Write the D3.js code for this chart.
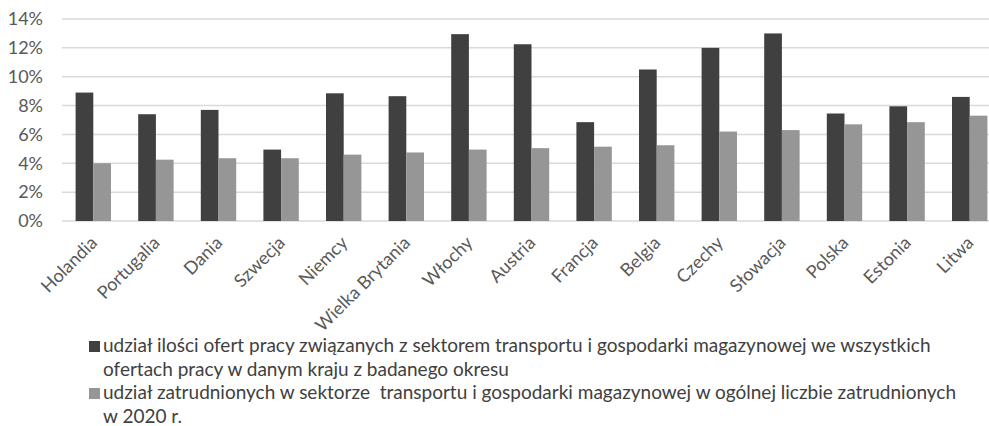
<!DOCTYPE html>
<html><head><meta charset="utf-8">
<script src="https://cdn.jsdelivr.net/npm/d3@7"></script>
<style>body{margin:0;background:#fff}svg{display:block}</style>
</head><body>
<svg id="c" width="989" height="426"></svg>
<script>
const categories = ["Holandia","Portugalia","Dania","Szwecja","Niemcy","Wielka Brytania","Włochy","Austria","Francja","Belgia","Czechy","Słowacja","Polska","Estonia","Litwa"];
const offersShare = [8.9,7.4,7.7,4.95,8.85,8.65,12.95,12.25,6.85,10.5,12.0,13.0,7.45,7.95,8.6];
const employedShare = [4.0,4.25,4.35,4.35,4.6,4.75,4.95,5.05,5.15,5.25,6.2,6.3,6.7,6.85,7.3];
const yTicks = [0,2,4,6,8,10,12,14];
const legendLines = [
  ["udział ilości ofert pracy związanych z sektorem transportu i gospodarki magazynowej we wszystkich","ofertach pracy w danym kraju z badanego okresu"],
  ["udział zatrudnionych w sektorze  transportu i gospodarki magazynowej w ogólnej liczbie zatrudnionych","w 2020 r."]
];
const colors = ["#404040","#969696"];
const font = "Lato, 'Open Sans', sans-serif";

const svg = d3.select("#c");
const x = d3.scaleBand().domain(categories).range([62,1001]).padding(0);
const y = d3.scaleLinear().domain([0,14]).range([221,19]);
const bw = 17.7;

// grid
svg.append("g").selectAll("line").data(yTicks).join("line")
  .attr("x1",62).attr("x2",989).attr("y1",d=>y(d)).attr("y2",d=>y(d))
  .attr("stroke","#d9d9d9").attr("stroke-width",1.5);

// y labels
svg.append("g").selectAll("text").data(yTicks).join("text")
  .attr("x",43).attr("y",d=>y(d)).attr("dy","0.35em").attr("text-anchor","end")
  .attr("font-family",font).attr("font-size",18).attr("fill","#595959")
  .text(d=>d+"%");

const series = [offersShare, employedShare];
series.forEach((vals,si)=>{
  svg.append("g").selectAll("rect").data(categories).join("rect")
    .attr("x",(d)=>x(d)+x.bandwidth()/2 - bw + si*bw)
    .attr("width",bw)
    .attr("y",(d,i)=>y(vals[i]))
    .attr("height",(d,i)=>y(0)-y(vals[i]))
    .attr("fill",colors[si]);
});

// x labels
svg.append("g").selectAll("text").data(categories).join("text")
  .attr("transform",d=>`translate(${x(d)+x.bandwidth()/2+5},244) rotate(-45)`)
  .attr("text-anchor","end")
  .attr("font-family",font).attr("font-size",18).attr("fill","#595959")
  .text(d=>d);

// legend
const lg = svg.append("g");
legendLines.forEach((lines,i)=>{
  const baseY = 352 + i*47;
  lg.append("rect").attr("x",89).attr("y",baseY-11).attr("width",11).attr("height",11).attr("fill",colors[i]);
  lines.forEach((t,j)=>{
    lg.append("text").attr("x",103).attr("y",baseY+j*23.5)
      .attr("font-family",font).attr("font-size",19).attr("fill","#404040")
      .style("white-space","pre")
      .text(t);
  });
});
</script>
</body></html>
